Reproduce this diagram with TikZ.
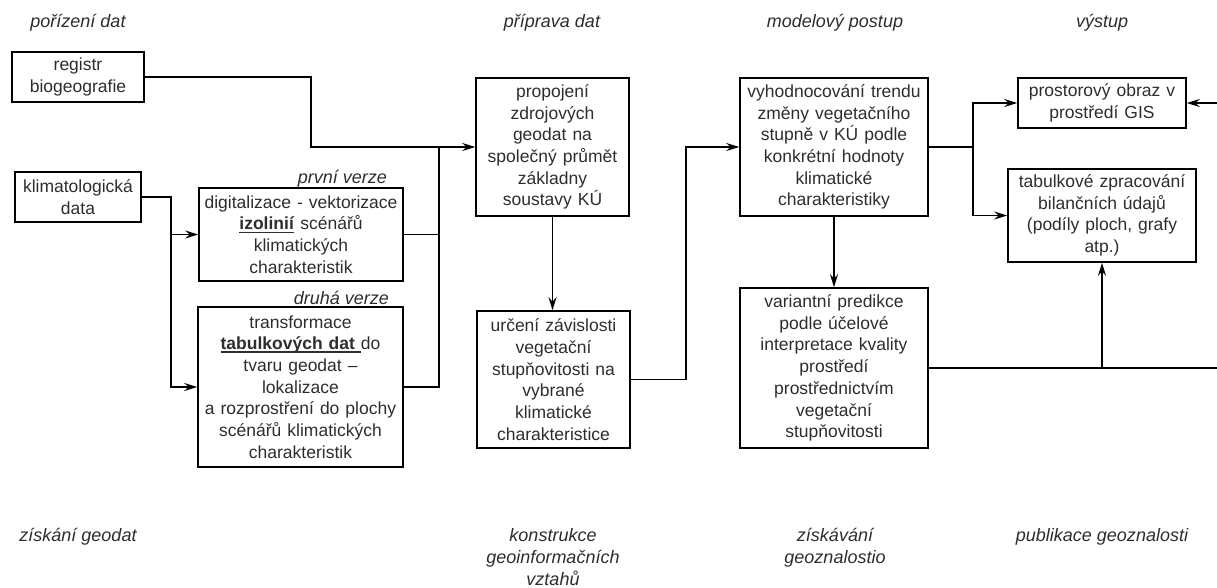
\documentclass[tikz,border=0pt]{standalone}
\usepackage{fontspec}
\setmainfont{Liberation Sans}
\usetikzlibrary{arrows.meta,calc}
\definecolor{txt}{RGB}{45,45,45}
\newcommand\bxfont{\fontsize{17.5}{21.7}\selectfont\spaceskip=6pt plus 2pt minus 1pt\relax}
\newcommand\hdfont{\fontsize{18}{22}\selectfont\itshape}
\newcommand\mkul[1]{\setbox0\hbox{#1}\rlap{\rule[-3pt]{\wd0}{1.4pt}}\box0\relax}
\tikzset{
  box/.style={draw=black, line width=1.6pt, inner sep=0pt, align=center, font=\bxfont, text=txt},
  hd/.style={inner sep=0pt, align=center, font=\hdfont, text=txt},
  conn/.style={draw=black, line width=1.9pt},
  arr/.style={conn, -{Stealth[length=13pt,width=8pt,inset=4.5pt]}}
}
\begin{document}
\begin{tikzpicture}[x=1pt,y=-1pt]
\useasboundingbox (0,0) rectangle (1217,588);
% headings
\node[hd, anchor=base] (h1) at (78,28) {pořízení dat};
\node[hd, anchor=base] (h2) at (552,28) {příprava dat};
\node[hd, anchor=base] (h3) at (835,28) {modelový postup};
\node[hd, anchor=base] (h4) at (1102,28) {výstup};
\node[hd, anchor=base] (f1) at (78,541) {získání geodat};
\node[hd, anchor=north] (f2) at (553,528) {konstrukce\\geoinformačních\\vztahů};
\node[hd, anchor=north] (f3) at (835,528) {získávání\\geoznalostio};
\node[hd, anchor=base] (f4) at (1102,541) {publikace geoznalosti};
% boxes
\node[box, minimum width=132pt, minimum height=50pt] (reg) at (78,77) {registr\\biogeografie};
\node[box, minimum width=126pt, minimum height=50pt] (klim) at (78,197) {klimatologická\\data};
\node[box, minimum width=204pt, minimum height=93pt] (A) at (301,234.5) {digitalizace - vektorizace\\\mkul{\textbf{izolinií}} scénářů\\klimatických\\charakteristik};
\node[box, minimum width=205pt, minimum height=160pt] (B) at (300.5,387) {transformace\\\mkul{\textbf{tabulkových dat}\ }do\\tvaru geodat –\\lokalizace\\a rozprostření do plochy\\scénářů klimatických\\charakteristik};
\node[hd, anchor=base east] (lA) at (387,183) {první verze};
\node[hd, anchor=base east] (lB) at (389,304) {druhá verze};
\node[box, minimum width=153pt, minimum height=138pt] (P) at (552.5,147) {propojení\\zdrojových\\geodat na\\společný průmět\\základny\\soustavy KÚ};
\node[box, minimum width=153pt, minimum height=137pt] (U) at (553.5,379.5) {určení závislosti\\vegetační\\stupňovitosti na\\vybrané\\klimatické\\charakteristice};
\node[box, minimum width=188pt, minimum height=138pt] (V) at (834,147) {vyhodnocování trendu\\změny vegetačního\\stupně v KÚ podle\\konkrétní hodnoty\\klimatické\\charakteristiky};
\node[box, minimum width=188pt, minimum height=160pt] (W) at (834,368) {variantní predikce\\podle účelové\\interpretace kvality\\prostředí\\prostřednictvím\\vegetační\\stupňovitosti};
\node[box, minimum width=168pt, minimum height=50pt] (G) at (1102,103) {prostorový obraz v\\prostředí GIS};
\node[box, minimum width=188pt, minimum height=93pt] (T) at (1102,215.5) {tabulkové zpracování\\bilančních údajů\\(podíly ploch, grafy\\atp.)};
% junction coordinates
\coordinate (kj) at ($(klim.east)+(29,0)$);
\coordinate (mj) at ($(P.west)+(-36,0)$);
\coordinate (vj) at ($(V.east)+(44,0)$);
\coordinate (edgeR) at (1217,0);
% connectors
\draw[arr] (reg.east) -- ++(166,0) |- (P.west);
\draw[arr] (klim.east) -- (kj) |- (B.west);
\draw[arr] (kj |- A.west) -- (A.west);
\draw[conn] (A.east) -| (mj);
\draw[conn] (B.east) -| (mj);
\draw[arr] (P.south) -- (P.south |- U.north);
\draw[arr] (U.east) -- ++(55,0) |- (V.west);
\draw[conn] (V.east) -- (vj);
\draw[arr] (vj) |- (G.west);
\draw[arr] (vj) |- (T.west);
\draw[arr] (V.south) -- (W.north);
\draw[conn] (W.east) -- (W.east -| edgeR);
\draw[arr] (W.east -| T.south) -- (T.south);
\draw[arr] (G.east -| edgeR) -- (G.east);
\end{tikzpicture}
\end{document}
